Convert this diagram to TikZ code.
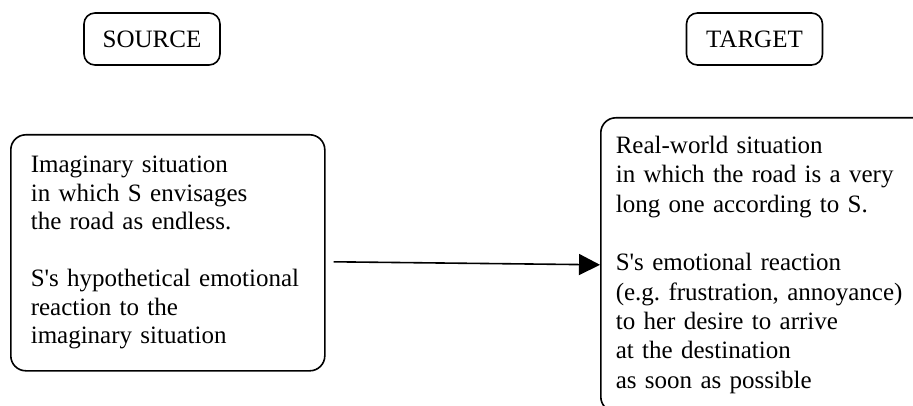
\documentclass[tikz,border=0pt]{standalone}
\usepackage{fontspec}
\setmainfont{Liberation Serif}[Ligatures=TeXOff]
\usetikzlibrary{arrows.meta,calc}

\begin{document}
\begin{tikzpicture}
	[x=1pt,y=-1pt,line width=1.6pt,
	label box/.style={draw,rounded corners=11pt,minimum width=136pt,
		minimum height=52pt,inner sep=0pt,font=\fontsize{25}{29}\selectfont},
	situation/.style={draw,rounded corners=15pt,anchor=north west,
		align=left,inner ysep=0pt}]
	\clip (0,0) rectangle (913,406);
	\node[label box] (source) at (152,39) {SOURCE};
	\node[label box] (target) at (754.5,39) {TARGET};
	
	\node[situation,text width=274pt,minimum height=236pt,inner xsep=20pt,
		font=\fontsize{25}{28.5}\selectfont] (imag) at (10,134)
	{Imaginary situation\\
		in which S envisages\\
		the road as endless.\\[\baselineskip]
		S's hypothetical emotional\\
		reaction to the\\
		imaginary situation};
	
	\node[situation,text width=320pt,minimum height=294pt,inner xsep=15pt,
		font=\fontsize{25}{29.3}\selectfont] (real) at (600,117)
	{Real-world situation\\
		in which the road is a very\\
		long one according to S.\\[\baselineskip]
		S's emotional reaction\\
		(e.g.\ frustration, annoyance)\\
		to her desire to arrive\\
		at the destination\\
		as soon as possible};
	
	\coordinate (start) at ($(imag.east)+(8,9)$);
	\draw[-{Triangle[length=21pt,width=21pt]}] (start) -- (real.west);
\end{tikzpicture}
\end{document}
